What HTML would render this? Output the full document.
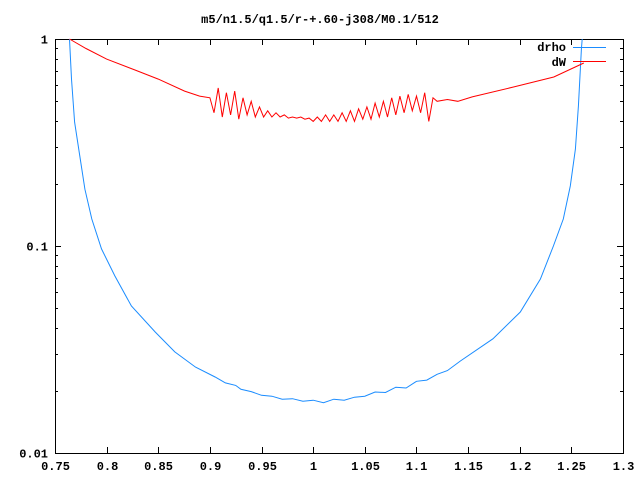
<!DOCTYPE html>
<html>
<head>
<meta charset="utf-8">
<style>
  html,body{margin:0;padding:0;background:#fff;}
  svg{display:block;}
  text{font-family:"Liberation Mono","DejaVu Sans Mono",monospace;font-weight:bold;font-size:12px;fill:#000;}
</style>
</head>
<body>
<svg id="chart" width="640" height="480" viewBox="0 0 640 480" xmlns="http://www.w3.org/2000/svg">
  <rect x="0" y="0" width="640" height="480" fill="#fff"/>
  <text x="320" y="23" text-anchor="middle">m5/n1.5/q1.5/r-+.60-j308/M0.1/512</text>
  <g id="axes"></g>
  <g id="series"></g>
  <g id="legend">
    <text x="566" y="51" text-anchor="end">drho</text>
    <line x1="573" y1="47.5" x2="606" y2="47.5" stroke="#1a8cff" stroke-width="1"/>
    <text x="566" y="66" text-anchor="end">dW</text>
    <line x1="573" y1="61.5" x2="606" y2="61.5" stroke="#ff0000" stroke-width="1"/>
  </g>
</svg>
<script>
var xTicks = [0.75,0.8,0.85,0.9,0.95,1,1.05,1.1,1.15,1.2,1.25,1.3];
var xTickLabels = ["0.75","0.8","0.85","0.9","0.95","1","1.05","1.1","1.15","1.2","1.25","1.3"];
var yTicks = [0.01,0.1,1];
var yTickLabels = ["0.01","0.1","1"];

var drhoX = [0.764,0.766,0.769,0.774,0.779,0.7856,0.795,0.808,0.824,0.847,0.866,0.886,0.905,0.915,0.925,0.93,0.94,0.95,0.96,0.97,0.98,0.99,1.0,1.01,1.02,1.03,1.04,1.05,1.06,1.07,1.08,1.09,1.10,1.11,1.12,1.13,1.1424,1.174,1.2006,1.22,1.2326,1.2422,1.249,1.2539,1.2568,1.2597,1.2605];
var drhoY = [1,0.641,0.397,0.272,0.188,0.135,0.0968,0.0716,0.0513,0.0384,0.0308,0.026,0.0233,0.0218,0.0212,0.0203,0.0198,0.0190,0.0188,0.0182,0.0183,0.0178,0.0180,0.0175,0.0182,0.0180,0.0186,0.0188,0.0197,0.0196,0.0208,0.0206,0.0222,0.0225,0.0240,0.0250,0.0278,0.0356,0.048,0.0693,0.1,0.135,0.195,0.294,0.474,0.895,1];

var dwX = [0.764,0.78,0.80,0.8275,0.85,0.8755,0.89,0.900,0.904,0.908,0.912,0.916,0.920,0.924,0.928,0.932,0.936,0.940,0.944,0.948,0.952,0.956,0.960,0.964,0.968,0.972,0.976,0.980,0.984,0.988,0.992,0.996,1.000,1.004,1.008,1.012,1.016,1.020,1.024,1.028,1.032,1.036,1.040,1.044,1.048,1.052,1.056,1.060,1.064,1.068,1.072,1.076,1.080,1.084,1.088,1.092,1.096,1.100,1.104,1.108,1.112,1.116,1.120,1.130,1.140,1.154,1.194,1.233,1.262];
var dwY = [1,0.90,0.80,0.708,0.64,0.56,0.53,0.52,0.44,0.58,0.42,0.55,0.43,0.56,0.41,0.52,0.43,0.50,0.42,0.47,0.42,0.45,0.42,0.44,0.42,0.43,0.415,0.42,0.415,0.42,0.41,0.415,0.40,0.42,0.40,0.43,0.40,0.43,0.40,0.44,0.40,0.45,0.40,0.46,0.41,0.47,0.41,0.49,0.42,0.50,0.42,0.52,0.43,0.53,0.44,0.54,0.45,0.53,0.44,0.55,0.40,0.52,0.50,0.51,0.50,0.525,0.586,0.655,0.766];

var NS = "http://www.w3.org/2000/svg";
var L = 55, R = 623, T = 39, B = 453;
var xMin = 0.75, xMax = 1.3, yMin = 0.01, yMax = 1;
function sx(v){ return L + (v - xMin) / (xMax - xMin) * (R - L); }
function sy(v){ return B - (Math.log10(v) - Math.log10(yMin)) / (Math.log10(yMax) - Math.log10(yMin)) * (B - T); }
function mk(tag, attrs, parent){
  var e = document.createElementNS(NS, tag);
  for (var k in attrs) e.setAttribute(k, attrs[k]);
  parent.appendChild(e);
  return e;
}
var axes = document.getElementById('axes');
var frame = mk('rect', {x:L+0.5, y:T+0.5, width:R-L, height:B-T, fill:'none', stroke:'#000', 'stroke-width':1}, axes);



for (var i = 0; i < xTicks.length; i++){
  var x = Math.round(sx(xTicks[i])) + 0.5;
  var t1 = mk('line', {x1:x, y1:B, x2:x, y2:B-6, stroke:'#000'}, axes);
  
  
  var t2 = mk('line', {x1:x, y1:T, x2:x, y2:T+6, stroke:'#000'}, axes);
  
  
  var lb = mk('text', {x:x, y:470, 'text-anchor':'middle'}, axes);
  lb.textContent = xTickLabels[i];
  
  
}
for (var d = 0; d < yTicks.length; d++){
  var y = Math.round(sy(yTicks[d])) + 0.5;
  var a = mk('line', {x1:L, y1:y, x2:L+6, y2:y, stroke:'#000'}, axes);
  
  
  var b = mk('line', {x1:R, y1:y, x2:R-6, y2:y, stroke:'#000'}, axes);
  
  
  var yl = mk('text', {x:48, y:y+4, 'text-anchor':'end'}, axes);
  yl.textContent = yTickLabels[d];
  
  
  if (d < yTicks.length - 1){
    for (var m = 2; m <= 9; m++){
      var ym = Math.round(sy(yTicks[d] * m)) + 0.5;
      var c = mk('line', {x1:L, y1:ym, x2:L+3, y2:ym, stroke:'#000'}, axes);
      
      
      var e2 = mk('line', {x1:R, y1:ym, x2:R-3, y2:ym, stroke:'#000'}, axes);
      
      
    }
  }
}
var series = document.getElementById('series');
function pts(xs, ys){
  var p = [];
  for (var i = 0; i < xs.length; i++) p.push(sx(xs[i]).toFixed(1) + ',' + sy(ys[i]).toFixed(1));
  return p.join(' ');
}
var l1 = mk('polyline', {points:pts(drhoX, drhoY), fill:'none', stroke:'#1a8cff', 'stroke-width':1}, series);


var l2 = mk('polyline', {points:pts(dwX, dwY), fill:'none', stroke:'#ff0000', 'stroke-width':1}, series);


</script>
</body>
</html>
